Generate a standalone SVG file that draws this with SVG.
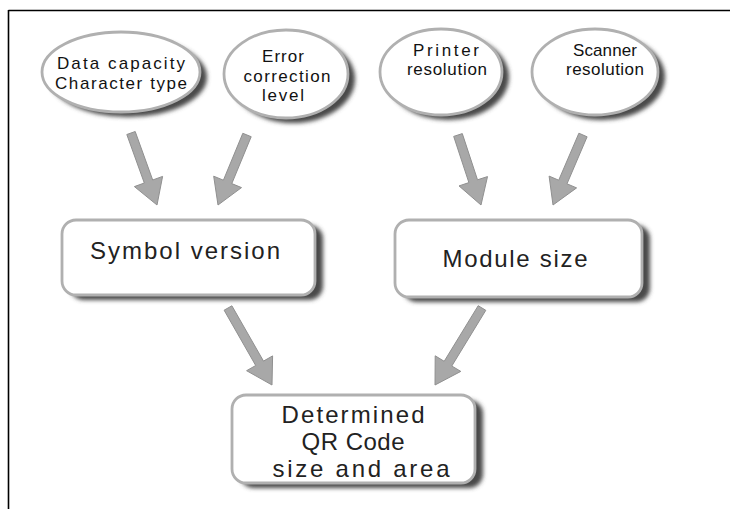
<svg xmlns="http://www.w3.org/2000/svg" width="730" height="509" viewBox="0 0 730 509">
<defs>
<filter id="blur" x="-20%" y="-20%" width="140%" height="140%"><feGaussianBlur stdDeviation="2.2"/></filter>
<style>
.frame{stroke:#000;stroke-width:1.6;fill:none}
.shadow{fill:#4a4a4a;filter:url(#blur)}
.shape{fill:#fff;stroke:#b0b0b0;stroke-width:2.8}
.arrow{fill:#a8a8a8;stroke:#909090;stroke-width:1}
.small{font-family:"Liberation Sans",Arial,sans-serif;font-size:17px;fill:#111;text-anchor:middle}
.big{font-family:"Liberation Sans",Arial,sans-serif;font-size:24px;fill:#222;text-anchor:middle}
</style>
</defs>
<rect width="730" height="509" fill="#fff"/>
<g id="frame">
<line class="frame" x1="8.5" y1="10.5" x2="730" y2="10.5"/>
<line class="frame" x1="8.5" y1="10" x2="8.5" y2="509"/>
</g>
<g id="connectors">
<polygon class="arrow" points="126.8,134.5 144.3,183 134.4,186.6 157,205 162.6,176.4 152.7,180 135.2,131.5"/>
<polygon class="arrow" points="242.8,133.3 223.4,180.2 213.7,176.2 218,205 241.5,187.6 231.8,183.6 251.2,136.7"/>
<polygon class="arrow" points="453.7,136.4 468.9,182.6 459,185.9 481,205 487.5,176.6 477.5,179.8 462.3,133.6"/>
<polygon class="arrow" points="578.9,133.2 558.7,180.2 549.1,176.1 553,205 576.6,187.9 567,183.8 587.1,136.8"/>
<polygon class="arrow" points="224.1,310.2 255.7,365.5 246.6,370.7 272,385 272.6,355.9 263.5,361.1 231.9,305.8"/>
<polygon class="arrow" points="478.2,305.7 444.2,361.3 435.2,355.8 435,385 460.8,371.4 451.8,366 485.8,310.3"/>
</g>
<g id="data-capacity">
<ellipse class="shadow" cx="128" cy="77" rx="79" ry="40"/>
<ellipse class="shape" cx="121" cy="72" rx="79" ry="40"/>
<text class="small" x="121" y="69" textLength="128" lengthAdjust="spacing">Data capacity</text>
<text class="small" x="121" y="89" textLength="132" lengthAdjust="spacing">Character type</text>
</g>
<g id="error-correction">
<ellipse class="shadow" cx="293" cy="79" rx="62" ry="44"/>
<ellipse class="shape" cx="286" cy="74" rx="62" ry="44"/>
<text class="small" x="283" y="62" textLength="42" lengthAdjust="spacing">Error</text>
<text class="small" x="287" y="82" textLength="87" lengthAdjust="spacing">correction</text>
<text class="small" x="283" y="101" textLength="42" lengthAdjust="spacing">level</text>
</g>
<g id="printer-resolution">
<ellipse class="shadow" cx="448" cy="77" rx="61" ry="43"/>
<ellipse class="shape" cx="441" cy="72" rx="61" ry="43"/>
<text class="small" x="446" y="56" textLength="66" lengthAdjust="spacing">Printer</text>
<text class="small" x="447" y="75" textLength="80" lengthAdjust="spacing">resolution</text>
</g>
<g id="scanner-resolution">
<ellipse class="shadow" cx="602" cy="77" rx="63" ry="43"/>
<ellipse class="shape" cx="595" cy="72" rx="63" ry="43"/>
<text class="small" x="605" y="56" textLength="64" lengthAdjust="spacing">Scanner</text>
<text class="small" x="605" y="75" textLength="78" lengthAdjust="spacing">resolution</text>
</g>
<g id="symbol-version">
<rect class="shadow" x="70" y="225" width="253" height="75" rx="14"/>
<rect class="shape" x="62" y="220" width="253" height="75" rx="14"/>
<text class="big" x="185" y="259" textLength="190" lengthAdjust="spacing">Symbol version</text>
</g>
<g id="module-size">
<rect class="shadow" x="403" y="225" width="247" height="77" rx="14"/>
<rect class="shape" x="395" y="220" width="247" height="77" rx="14"/>
<text class="big" x="515" y="267" textLength="145" lengthAdjust="spacing">Module size</text>
</g>
<g id="determined">
<rect class="shadow" x="240" y="400" width="243" height="88" rx="14"/>
<rect class="shape" x="232" y="395" width="243" height="88" rx="14"/>
<text class="big" x="353" y="423" textLength="143" lengthAdjust="spacing">Determined</text>
<text class="big" x="353" y="450" textLength="103" lengthAdjust="spacing">QR Code</text>
<text class="big" x="361" y="477" textLength="177" lengthAdjust="spacing">size and area</text>
</g>
</svg>
